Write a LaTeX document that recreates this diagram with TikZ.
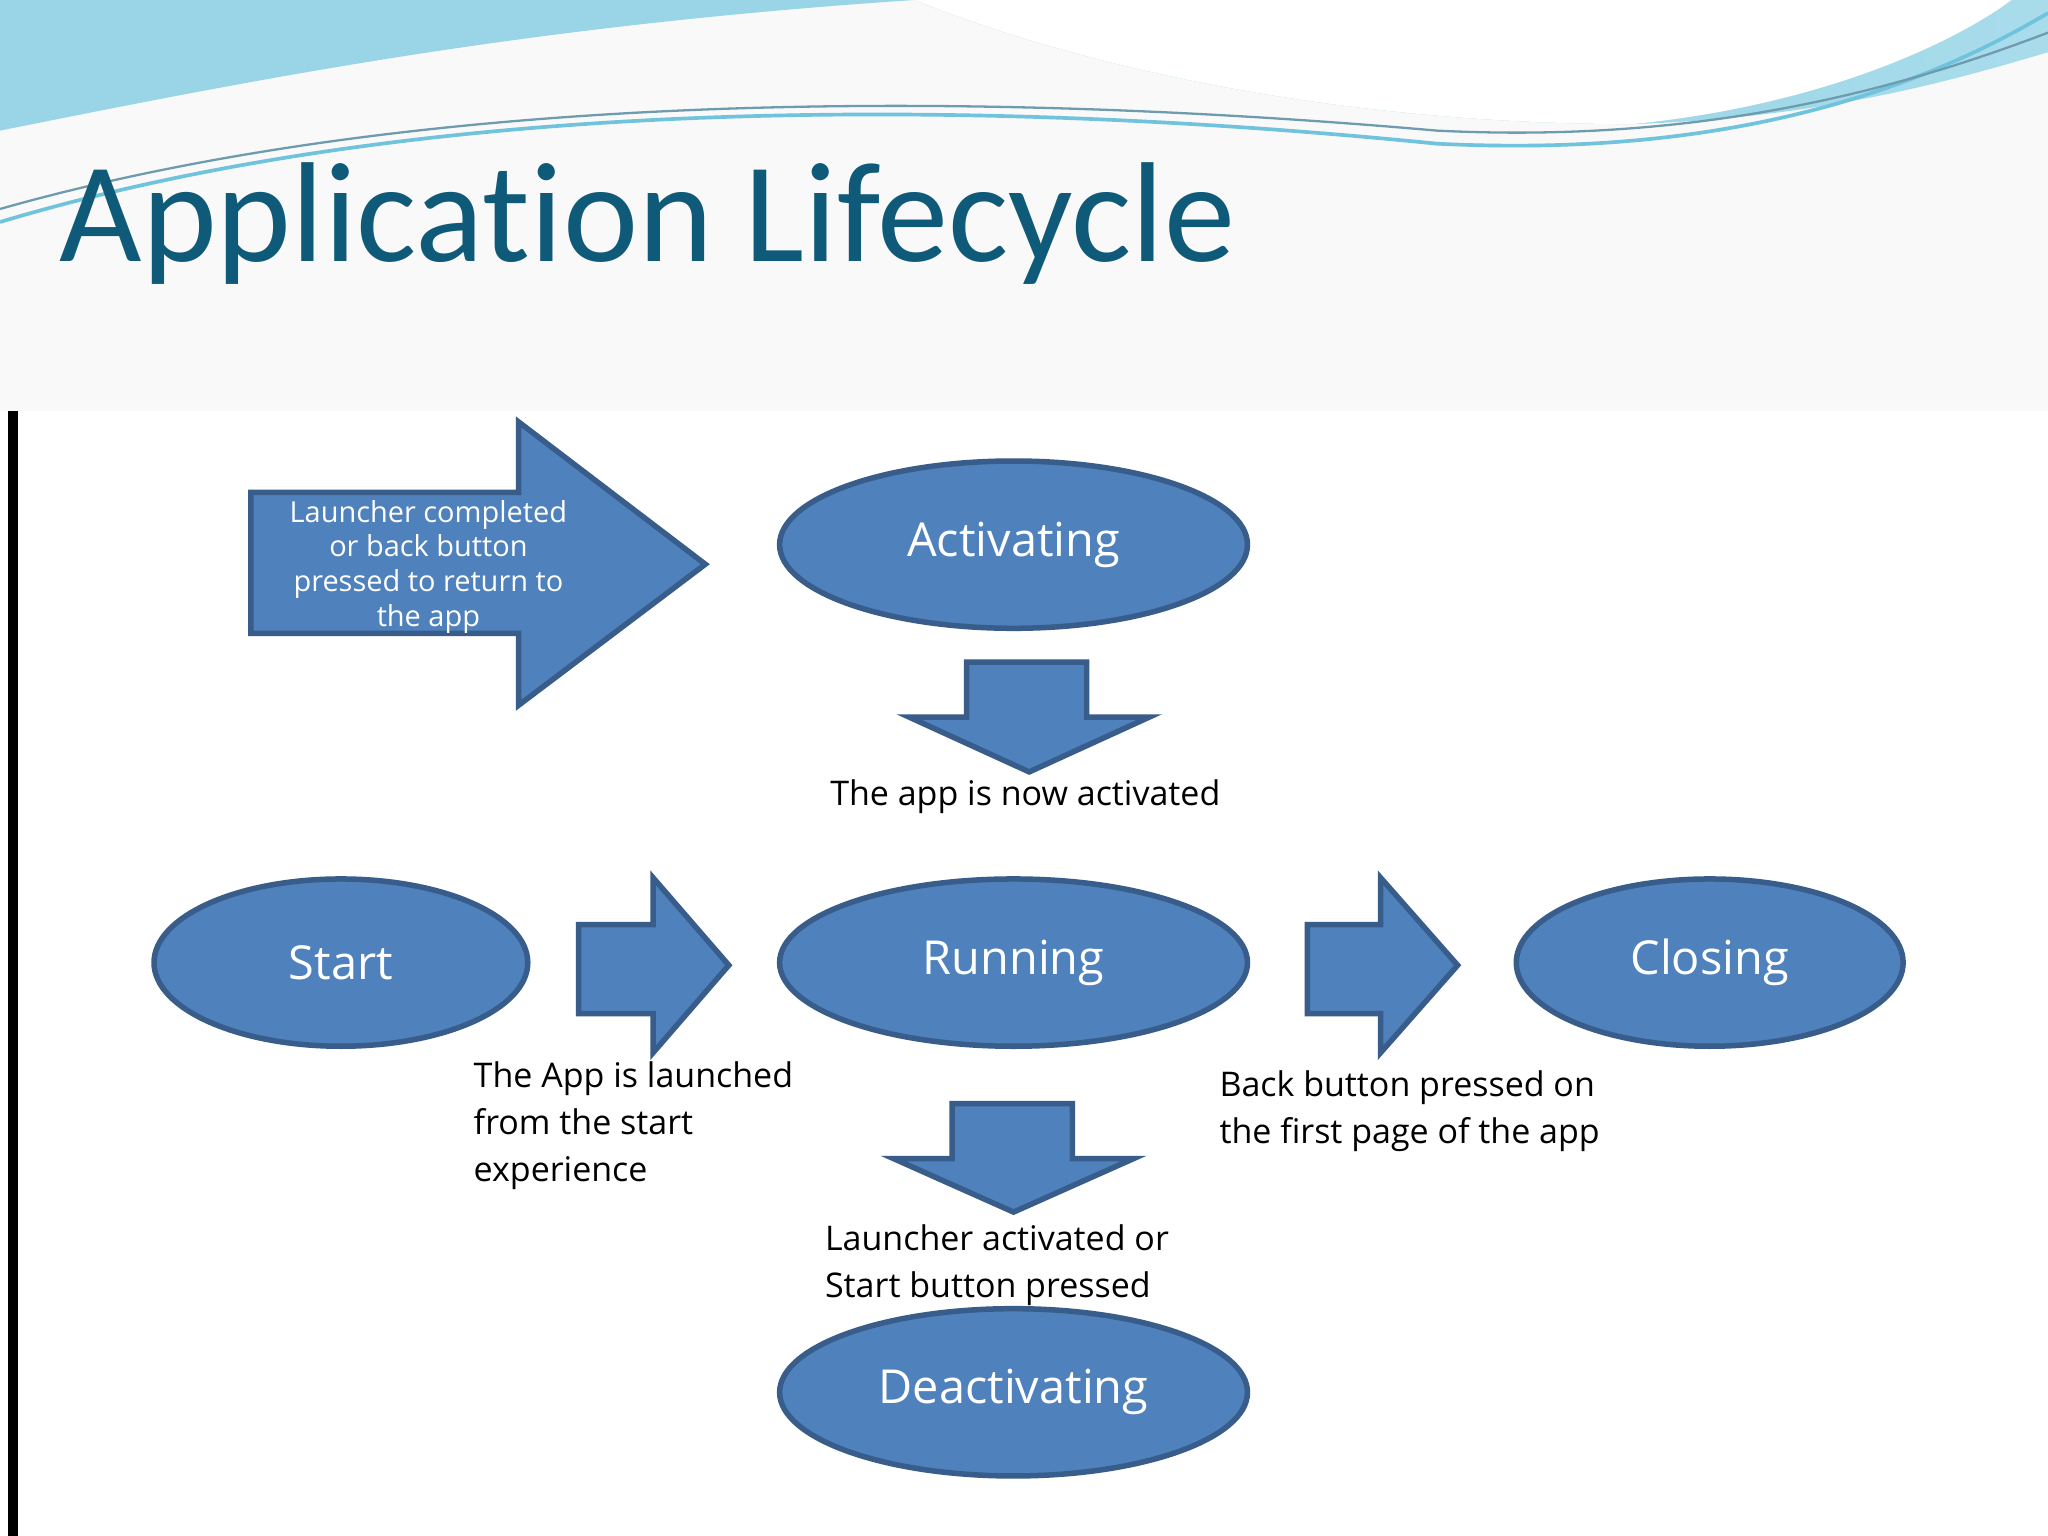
\documentclass[tikz,border=0pt]{standalone}
\usepackage{fontspec}
\usetikzlibrary{shapes.geometric}
\setmainfont{Open Sans}
\newfontfamily\titlefont[Ligatures={NoCommon}]{Carlito}
\definecolor{boxfill}{HTML}{4F81BD}
\definecolor{boxline}{HTML}{385D8A}
\definecolor{titlecol}{HTML}{0E5A78}
\definecolor{wave1}{HTML}{6FC3DD}
\definecolor{wave2}{HTML}{A9DCEB}
\begin{document}
\begin{tikzpicture}[x=0.01cm,y=-0.01cm,
  shp/.style={fill=boxfill,draw=boxline,line width=1.2pt},
  ell/.style={shp,ellipse,minimum width=3.58cm,minimum height=1.28cm,inner sep=0pt,text=white,font=\fontsize{10.2}{12}\selectfont},
  lbl/.style={font=\fontsize{7.4}{10.2}\selectfont,align=left,anchor=north west,inner sep=0pt}]
\useasboundingbox (0,0) rectangle (1568,1176);
\fill[gray!5] (0,0) rectangle (1568,315);
% waves
\shade[left color=wave1,right color=wave2] (0,0) -- (700,0) .. controls (850,60) and (1050,95) .. (1250,95) .. controls (1400,90) and (1500,60) .. (1568,40) -- (1568,0) -- cycle;
\fill[white] (700,0) .. controls (850,60) and (1050,95) .. (1250,95) .. controls (1400,80) and (1500,30) .. (1540,0) -- cycle;
\fill[wave1!70] (0,100) .. controls (200,60) and (400,20) .. (700,0) -- (0,0) -- cycle;
\draw[wave1,line width=0.8pt] (0,170) .. controls (300,80) and (700,70) .. (1100,110) .. controls (1300,120) and (1450,80) .. (1568,10);
\draw[titlecol!60,line width=0.5pt] (0,160) .. controls (300,75) and (700,65) .. (1100,100) .. controls (1300,110) and (1450,70) .. (1568,25);
\fill[white] (0,315) rectangle (1568,1176);
\draw[line width=2.2pt,black] (10,315) -- (10,1176);
\node[anchor=base west,inner sep=0pt,text=titlecol,font=\titlefont\fontsize{31}{31}\selectfont] (title) at (45,200) {Application Lifecycle};
% big arrow
\draw[shp] (192,377) -- (397,377) -- (397,323) -- (540,432) -- (397,540) -- (397,485) -- (192,485) -- cycle;
\node[align=center,text=white,font=\fontsize{6.3}{7.6}\selectfont] (launch) at (328,434) {Launcher completed\\or back button\\pressed to return to\\the app};
\node[ell] (act) at (776,417) {Activating};
\draw[shp] (740,507) -- (832,507) -- (832,549) -- (880,549) -- (788,591) -- (696,549) -- (740,549) -- cycle;
\node[font=\fontsize{7.4}{10}\selectfont] (t1) at (785,610) {The app is now activated};
\node[ell,minimum width=2.86cm] (start) at (261,737) {Start};
\draw[shp] (443,708) -- (500,708) -- (500,672) -- (558,739) -- (500,806) -- (500,776) -- (443,776) -- cycle;
\node[ell] (run) at (776,737) {Running};
\draw[shp] (1001,708) -- (1057,708) -- (1057,672) -- (1116,739) -- (1057,806) -- (1057,776) -- (1001,776) -- cycle;
\node[ell,minimum width=2.96cm] (close) at (1309,737) {Closing};
\node[lbl] (t2) at (362,812) {The App is launched\\from the start\\experience};
\node[lbl] (t3) at (933,819) {Back button pressed on\\the first page of the app};
\draw[shp] (729,845) -- (821,845) -- (821,887) -- (868,887) -- (776,928) -- (684,887) -- (729,887) -- cycle;
\node[lbl] (t4) at (631,937) {Launcher activated or\\Start button pressed};
\node[ell] (deact) at (776,1066) {Deactivating};
\end{tikzpicture}
\end{document}
